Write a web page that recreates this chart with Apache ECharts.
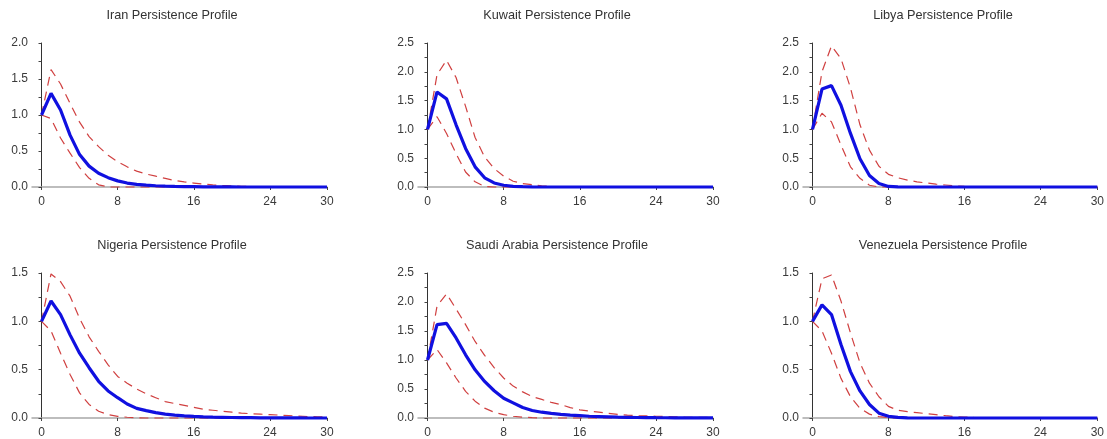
<!DOCTYPE html>
<html>
<head>
<meta charset="utf-8">
<script src="https://cdn.jsdelivr.net/npm/echarts@6/dist/echarts.min.js"></script>
<style>html,body{margin:0;padding:0;background:#fff;}#c{width:1107px;height:439px;}</style>
</head>
<body>
<div id="c"></div>
<script>
const horizons = [0,1,2,3,4,5,6,7,8,9,10,11,12,13,14,15,16,17,18,19,20,21,22,23,24,25,26,27,28,29,30];
const xTickLabels = [0, 8, 16, 24, 30];
const countries = ["Iran", "Kuwait", "Libya", "Nigeria", "Saudi Arabia", "Venezuela"];
const yMax = [2.0, 2.5, 2.5, 1.5, 2.5, 1.5];

const iranMain  = [1.0,1.30,1.07,0.72,0.45,0.29,0.19,0.13,0.085,0.055,0.037,0.025,0.017,0.012,0.008,0.005,0.004,0.003,0.002,0.001,0.001,0,0,0,0,0,0,0,0,0,0];
const iranUpper = [1.0,1.63,1.43,1.16,0.90,0.70,0.56,0.44,0.35,0.28,0.22,0.18,0.15,0.12,0.09,0.07,0.055,0.04,0.03,0.022,0.016,0.01,0.006,0.003,0.001,0,0,0,0,0,0];
const iranLower = [1.0,0.95,0.68,0.47,0.27,0.12,0.03,0,0,0,0,0,0,0,0,0,0,0,0,0,0,0,0,0,0,0,0,0,0,0,0];

const kuwaitMain  = [1.0,1.65,1.53,1.08,0.67,0.35,0.16,0.07,0.03,0.012,0.005,0.002,0,0,0,0,0,0,0,0,0,0,0,0,0,0,0,0,0,0,0];
const kuwaitUpper = [1.0,1.95,2.20,1.90,1.40,0.86,0.52,0.32,0.19,0.10,0.06,0.04,0.02,0.01,0.004,0,0,0,0,0,0,0,0,0,0,0,0,0,0,0,0];
const kuwaitLower = [1.0,1.22,0.93,0.58,0.26,0.09,0.01,0,0,0,0,0,0,0,0,0,0,0,0,0,0,0,0,0,0,0,0,0,0,0,0];

const libyaMain  = [1.0,1.70,1.76,1.42,0.93,0.49,0.20,0.06,0.01,0.003,0,0,0,0,0,0,0,0,0,0,0,0,0,0,0,0,0,0,0,0,0];
const libyaUpper = [1.0,2.00,2.45,2.23,1.72,1.08,0.64,0.36,0.22,0.16,0.12,0.09,0.07,0.05,0.035,0.02,0.01,0.004,0,0,0,0,0,0,0,0,0,0,0,0,0];
const libyaLower = [1.0,1.28,1.13,0.73,0.35,0.15,0.03,0,0,0,0,0,0,0,0,0,0,0,0,0,0,0,0,0,0,0,0,0,0,0,0];

const nigeriaMain  = [1.0,1.21,1.07,0.86,0.67,0.52,0.38,0.28,0.21,0.145,0.10,0.076,0.055,0.04,0.03,0.022,0.016,0.012,0.009,0.007,0.005,0.004,0.003,0.002,0.002,0.001,0.001,0.001,0,0,0];
const nigeriaUpper = [1.0,1.49,1.41,1.26,1.03,0.84,0.69,0.55,0.43,0.36,0.30,0.25,0.21,0.17,0.15,0.13,0.11,0.09,0.08,0.07,0.06,0.05,0.045,0.04,0.035,0.03,0.025,0.02,0.015,0.012,0.01];
const nigeriaLower = [1.0,0.90,0.67,0.45,0.26,0.14,0.07,0.035,0.017,0.008,0.003,0,0,0,0,0,0,0,0,0,0,0,0,0,0,0,0,0,0,0,0];

const saudiMain  = [1.0,1.61,1.63,1.38,1.09,0.83,0.63,0.47,0.34,0.26,0.18,0.13,0.10,0.08,0.063,0.05,0.04,0.03,0.025,0.02,0.015,0.012,0.009,0.007,0.005,0.004,0.003,0.003,0.002,0.002,0.002];
const saudiUpper = [1.0,1.93,2.14,1.88,1.61,1.32,1.08,0.87,0.69,0.55,0.45,0.37,0.32,0.27,0.23,0.18,0.14,0.12,0.10,0.08,0.063,0.05,0.04,0.035,0.03,0.025,0.02,0.015,0.012,0.01,0.008];
const saudiLower = [1.0,1.18,0.95,0.69,0.46,0.29,0.17,0.10,0.057,0.03,0.015,0.005,0,0,0,0,0,0,0,0,0,0,0,0,0,0,0,0,0,0,0];

const venezMain  = [1.0,1.17,1.07,0.76,0.48,0.28,0.14,0.05,0.017,0.007,0.002,0,0,0,0,0,0,0,0,0,0,0,0,0,0,0,0,0,0,0,0];
const venezUpper = [1.0,1.44,1.48,1.21,0.88,0.57,0.36,0.22,0.12,0.08,0.065,0.055,0.045,0.035,0.024,0.015,0.01,0.006,0.004,0.002,0,0,0,0,0,0,0,0,0,0,0];
const venezLower = [1.0,0.90,0.67,0.41,0.22,0.10,0.04,0.014,0.004,0,0,0,0,0,0,0,0,0,0,0,0,0,0,0,0,0,0,0,0,0,0];

const mains  = [iranMain, kuwaitMain, libyaMain, nigeriaMain, saudiMain, venezMain];
const uppers = [iranUpper, kuwaitUpper, libyaUpper, nigeriaUpper, saudiUpper, venezUpper];
const lowers = [iranLower, kuwaitLower, libyaLower, nigeriaLower, saudiLower, venezLower];

const FONT = "Liberation Sans";
const gridLefts = [32, 418, 803];
const gridTops = [43, 273];
const gridH = [144, 145];
const titleX = [172, 557, 943];
const titleY = [9, 239];

const pairs = arr => horizons.map((h, i) => [h, arr[i]]);
const quarterTicks = m => { const t = []; for (let v = 0; v <= m + 1e-9; v += 0.25) t.push(+v.toFixed(2)); return t; };

const grids = [], xAxes = [], yAxes = [], series = [], titles = [];
countries.forEach((name, i) => {
  const col = i % 3, row = Math.floor(i / 3);
  grids.push({ left: gridLefts[col], top: gridTops[row], width: 295, height: gridH[row], containLabel: false });
  titles.push({
    text: name + " Persistence Profile", left: titleX[col], top: titleY[row], textAlign: 'center', padding: 0,
    textStyle: { fontFamily: FONT, fontSize: 12.7, fontWeight: 'normal', color: '#333' }
  });
  xAxes.push({
    type: 'value', gridIndex: i, min: -1, max: 30,
    axisLine: { show: true, onZero: false, lineStyle: { color: '#a8a8a8', width: 1.5 } },
    axisTick: { show: true, length: 3, customValues: xTickLabels, lineStyle: { color: '#444' } },
    axisLabel: { customValues: xTickLabels, margin: 9, fontFamily: FONT, fontSize: 12, color: '#3a3a3a' },
    splitLine: { show: false }
  });
  yAxes.push({
    type: 'value', gridIndex: i, min: 0, max: yMax[i], interval: 0.5,
    axisLine: { show: true, lineStyle: { color: '#333', width: 1 } },
    axisTick: { show: true, length: 3, customValues: quarterTicks(yMax[i]), lineStyle: { color: '#444' } },
    axisLabel: { margin: 4, fontFamily: FONT, fontSize: 12, color: '#3a3a3a', formatter: v => v.toFixed(1) },
    splitLine: { show: false }
  });
  [uppers[i], lowers[i]].forEach(arr => series.push({
    type: 'line', xAxisIndex: i, yAxisIndex: i, data: pairs(arr), showSymbol: false, symbol: 'none',
    lineStyle: { color: '#d04040', width: 1.2, type: [9, 6] }, z: 2, animation: false, clip: false
  }));
  series.push({
    type: 'line', xAxisIndex: i, yAxisIndex: i, data: pairs(mains[i]), showSymbol: false, symbol: 'none',
    lineStyle: { color: '#1010e0', width: 3.2 }, z: 3, animation: false, clip: false
  });
});

const chart = echarts.init(document.getElementById('c'), null, { renderer: 'canvas' });
chart.setOption({ backgroundColor: '#fff', animation: false, title: titles, grid: grids, xAxis: xAxes, yAxis: yAxes, series: series });
</script>
</body>
</html>
